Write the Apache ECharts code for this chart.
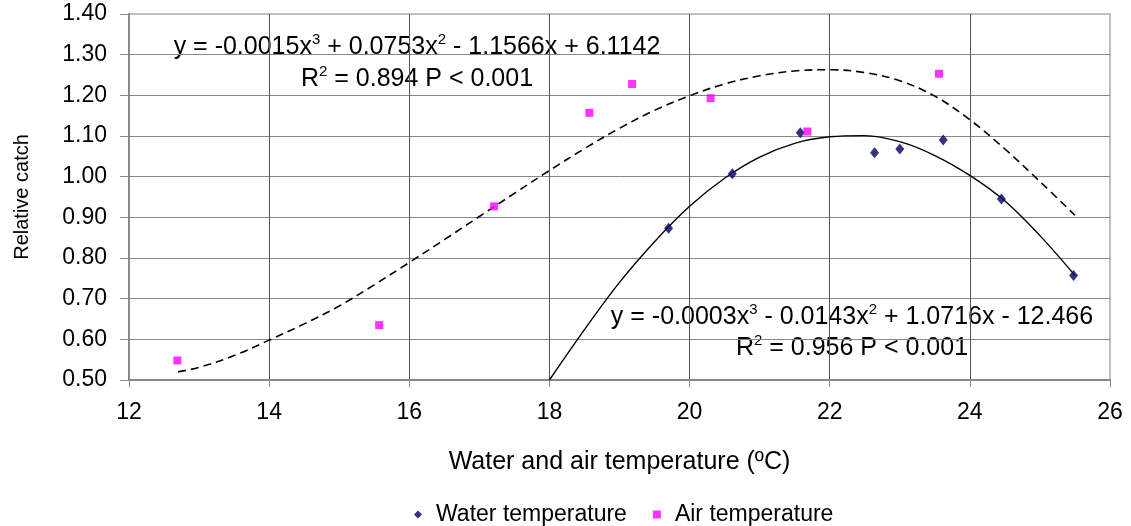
<!DOCTYPE html>
<html>
<head>
<meta charset="utf-8">
<style>
  html, body { margin: 0; padding: 0; background: #fff; }
  #chart { width: 1131px; height: 526px; }
</style>
<script src="https://cdn.jsdelivr.net/npm/echarts@6/dist/echarts.min.js"></script>
</head>
<body>
<div id="chart"></div>
<script>
// measured points
var waterTemp = [19.70, 20.61, 21.58, 22.64, 23.00, 23.62, 24.45, 25.48];
var waterCatch = [0.873, 1.007, 1.108, 1.059, 1.068, 1.090, 0.945, 0.757];
var airTemp = [12.69, 15.57, 17.21, 18.57, 19.18, 20.30, 21.68, 23.56];
var airCatch = [0.548, 0.635, 0.927, 1.157, 1.228, 1.193, 1.111, 1.253];

// trend lines
var airFitX = [12.7, 13, 13.5, 14, 14.5, 15, 15.5, 16, 16.5, 17, 17.5, 18, 18.5, 19, 19.5, 20, 20.5, 21, 21.5, 22, 22.5, 23, 23.5, 24, 24.5, 25, 25.5];
var airFitY = [0.520, 0.531, 0.560, 0.598, 0.638, 0.682, 0.734, 0.789, 0.845, 0.902, 0.959, 1.015, 1.069, 1.119, 1.163, 1.199, 1.228, 1.248, 1.260, 1.263, 1.256, 1.236, 1.198, 1.140, 1.068, 0.988, 0.905];
var waterFitX = [18, 18.5, 19, 19.5, 20, 20.5, 21, 21.5, 22, 22.5, 23, 23.5, 24, 24.5, 25, 25.5];
var waterFitY = [0.500, 0.624, 0.740, 0.840, 0.927, 0.996, 1.048, 1.082, 1.098, 1.101, 1.086, 1.052, 1.003, 0.940, 0.855, 0.757];

var xTicks = [12, 26, 2];
var yTicks = [0.5, 1.4, 0.1];

var eqAir = ['-0.0015', '0.0753', '1.1566', '6.1142', '0.894'];
var eqWater = ['-0.0003', '0.0143', '1.0716', '12.466', '0.956'];

function pairs(xs, ys) {
	var out = [];
	for (var i = 0; i < xs.length; i++) out.push([xs[i], ys[i]]);
	return out;
}

var font = "'Liberation Sans', Arial, sans-serif";
var richStyle = {
	n: { fontSize: 25, fontFamily: font, color: '#000', lineHeight: 28, verticalAlign: 'bottom' },
	s: { fontSize: 15, fontFamily: font, color: '#000', lineHeight: 28, verticalAlign: 'top' }
};

function eqText(cx, cy, t) {
	return {
		type: 'text',
		x: cx, y: cy,
		style: {
			text: t,
			rich: richStyle,
			align: 'center',
			verticalAlign: 'middle'
		}
	};
}

var chart = echarts.init(document.getElementById('chart'));
chart.setOption({
	backgroundColor: '#fff',
	animation: false,
	textStyle: { fontFamily: font },
	grid: {
		left: 129, right: 21, top: 14, bottom: 146,
		show: true,
		borderColor: '#c0c0c0',
		borderWidth: 2
	},
	legend: {
		data: ['Water temperature', 'Air temperature'],
		top: 498,
		left: 409,
		itemWidth: 8,
		itemHeight: 8,
		itemGap: 26,
		textStyle: { fontSize: 23, color: '#000', fontFamily: font, padding: [0, 0, 0, 9] }
	},
	xAxis: {
		type: 'value',
		min: xTicks[0], max: xTicks[1], interval: xTicks[2],
		name: 'Water and air temperature (ºC)',
		nameLocation: 'middle',
		nameGap: 70,
		nameTextStyle: { fontSize: 25, color: '#000', fontFamily: font },
		axisLine: { show: true, onZero: false, lineStyle: { color: '#888', width: 2 } },
		axisTick: { show: true, length: 7, lineStyle: { color: '#888', width: 1 } },
		axisLabel: { fontSize: 23, color: '#000', margin: 21, fontFamily: font },
		splitLine: { show: true, lineStyle: { color: ['#555', '#555', '#555', '#555', '#555', '#555', '#555', '#c0c0c0'], width: 1 } }
	},
	yAxis: {
		type: 'value',
		min: yTicks[0], max: yTicks[1], interval: yTicks[2],
		name: 'Relative catch',
		nameLocation: 'middle',
		nameGap: 97,
		nameTextStyle: { fontSize: 20, color: '#000', fontFamily: font },
		axisLine: { show: true, onZero: false, lineStyle: { color: '#888', width: 2 } },
		axisTick: { show: true, length: 9, lineStyle: { color: '#888', width: 1 } },
		axisLabel: {
			fontSize: 23, color: '#000', margin: 22, fontFamily: font,
			formatter: function (v) { return v.toFixed(2); }
		},
		splitLine: { show: true, lineStyle: { color: ['#888', '#888', '#888', '#888', '#888', '#888', '#888', '#888', '#888', '#c0c0c0'], width: 1 } }
	},
	series: [
		{
			name: 'Air fit',
			type: 'line',
			data: pairs(airFitX, airFitY),
			smooth: 0.35,
			showSymbol: false,
			silent: true,
			lineStyle: { color: '#000', width: 1.6, type: [8, 5] },
			z: 2
		},
		{
			name: 'Water fit',
			type: 'line',
			data: pairs(waterFitX, waterFitY),
			smooth: 0.35,
			showSymbol: false,
			silent: true,
			lineStyle: { color: '#000', width: 1.4 },
			z: 2
		},
		{
			name: 'Water temperature',
			type: 'scatter',
			symbol: 'diamond',
			symbolSize: [9, 11],
			itemStyle: { color: '#000066' },
			data: pairs(waterTemp, waterCatch),
			z: 3
		},
		{
			name: 'Air temperature',
			type: 'scatter',
			symbol: 'rect',
			symbolSize: 8,
			itemStyle: { color: '#ff00ff' },
			data: pairs(airTemp, airCatch),
			z: 3
		}
	],
	graphic: [
		eqText(417, 46, '{n|y = ' + eqAir[0] + 'x}{s|3}{n| + ' + eqAir[1] + 'x}{s|2}{n| - ' + eqAir[2] + 'x + ' + eqAir[3] + '}'),
		eqText(417, 78, '{n|R}{s|2}{n| = ' + eqAir[4] + ' P < 0.001}'),
		eqText(852, 316, '{n|y = ' + eqWater[0] + 'x}{s|3}{n| - ' + eqWater[1] + 'x}{s|2}{n| + ' + eqWater[2] + 'x - ' + eqWater[3] + '}'),
		eqText(852, 347, '{n|R}{s|2}{n| = ' + eqWater[4] + ' P < 0.001}')
	]
});
</script>
</body>
</html>
